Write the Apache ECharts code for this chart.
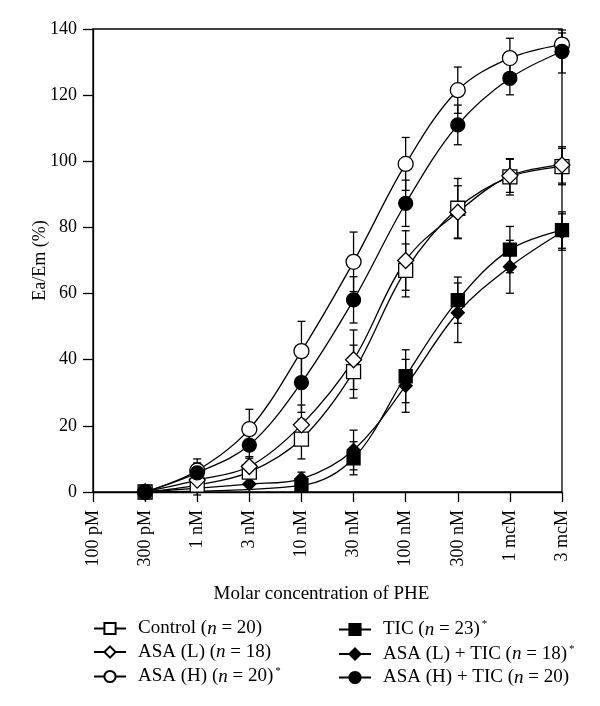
<!DOCTYPE html>
<html><head><meta charset="utf-8">
<script src="https://cdn.jsdelivr.net/npm/echarts@6/dist/echarts.min.js"></script>
<style>html,body{margin:0;padding:0;background:#fff}#c{width:600px;height:706px}</style>
</head><body><div id="c"></div>
<script>
var tickLabels = ['100 pM','300 pM','1 nM','3 nM','10 nM','30 nM','100 nM','300 nM','1 mcM','3 mcM'];
var yTicks = [0, 20, 40, 60, 80, 100, 120, 140];

var controlVals = [null, 0, 2.1, 6, 16, 36.4, 67, 85.8, 95.3, 98.4];
var controlErr  = [null, null, 3, 3, 6, 8, 8, 9, 5.5, 5.5];
var asaLVals    = [null, 0, 3.6, 7.7, 20.3, 40, 70, 84.6, 95.6, 98.9];
var asaLErr     = [null, null, 3, 3, 6, 9, 9, 8, 5, 5.5];
var asaHVals    = [null, 0, 6.5, 19, 42.6, 69.6, 99.2, 121.5, 131.2, 135.3];
var asaHErr     = [null, null, 3.5, 6, 9, 9, 8, 7, 6, 3.5];
var ticVals     = [null, 0, null, null, 2, 10.2, 35, 58, 73.3, 79.2];
var ticErr      = [null, null, null, null, 2, 5, 8, 7, 7, 5.5];
var asaLTicVals = [null, 0, null, 2.4, 4, 12.7, 32.1, 54.2, 68.1, 78.6];
var asaLTicErr  = [null, null, null, null, 2, 6, 8, 9, 8, 5.5];
var asaHTicVals = [null, 0, 5.8, 14.2, 33.1, 58.1, 87.3, 111, 125.1, 133.2];
var asaHTicErr  = [null, null, 3, 4, 9, 7, 7, 6, 5, 6.5];

var names = ['Control','ASA (L)','ASA (H)','TIC','ASA (L) + TIC','ASA (H) + TIC'];
var legendText = {
  'Control': 'Control ({i|n} = 20)',
  'ASA (L)': 'ASA (L) ({i|n} = 18)',
  'ASA (H)': 'ASA (H) ({i|n} = 20){s|*}',
  'TIC': 'TIC ({i|n} = 23){s|*}',
  'ASA (L) + TIC': 'ASA (L) + TIC ({i|n} = 18){s|*}',
  'ASA (H) + TIC': 'ASA (H) + TIC ({i|n} = 20)'
};

var FONT = 'Liberation Serif';
var chart = echarts.init(document.getElementById('c'));

function lineSeries(name, vals, symbol, size, filled) {
  return {
    name: name, type: 'line', data: vals, smooth: 0.35, connectNulls: true,
    symbol: symbol, symbolSize: size, showAllSymbol: true, z: 3,
    lineStyle: {color: '#000', width: 1.3},
    itemStyle: {color: filled ? '#000' : '#fff', borderColor: '#000', borderWidth: 1.3, opacity: 1},
    emphasis: {disabled: true}
  };
}
function errSeries(vals, errs) {
  var d = [];
  for (var i = 0; i < vals.length; i++) {
    if (vals[i] != null && errs[i] != null) d.push([i, vals[i] - errs[i], vals[i] + errs[i]]);
  }
  return {
    type: 'custom', z: 1, silent: true, data: d,
    renderItem: function (params, api) {
      var x = api.value(0);
      var lo = api.coord([x, api.value(1)]);
      var hi = api.coord([x, api.value(2)]);
      var w = 4;
      var st = {stroke: '#000', lineWidth: 1.3};
      return {type: 'group', children: [
        {type: 'line', shape: {x1: lo[0], y1: lo[1], x2: hi[0], y2: hi[1]}, style: st},
        {type: 'line', shape: {x1: hi[0] - w, y1: hi[1], x2: hi[0] + w, y2: hi[1]}, style: st},
        {type: 'line', shape: {x1: lo[0] - w, y1: lo[1], x2: lo[0] + w, y2: lo[1]}, style: st}
      ]};
    }
  };
}

var rich = {
  i: {fontFamily: FONT, fontSize: 19, fontStyle: 'italic', color: '#000'},
  s: {fontFamily: FONT, fontSize: 11, color: '#000', padding: [0, 0, 10, 2]}
};
function legendCfg(data, left) {
  return {
    data: data, orient: 'vertical', left: left, top: 614,
    itemWidth: 32, itemHeight: 14, itemGap: 4.5,
    formatter: function (n) { return legendText[n]; },
    textStyle: {fontFamily: FONT, fontSize: 19, color: '#000', padding: [0, 0, 0, 7], rich: rich},
    selectedMode: false
  };
}

chart.setOption({
  animation: false,
  grid: {left: 93, right: 38, top: 29, bottom: 214, show: true, borderColor: '#000', borderWidth: 1.3},
  legend: [legendCfg(names.slice(0, 3), 88), legendCfg(names.slice(3), 333)],
  xAxis: {
    type: 'category', data: tickLabels, boundaryGap: false,
    name: 'Molar concentration of PHE', nameLocation: 'middle', nameGap: 93,
    nameMoveOverlap: false,
    nameTextStyle: {fontFamily: FONT, fontSize: 19, color: '#000', padding: [0, 12, 0, 0]},
    axisLine: {lineStyle: {color: '#000', width: 1.3}},
    axisTick: {length: 10, lineStyle: {color: '#000', width: 1.3}},
    axisLabel: {rotate: 90, margin: 18, interval: 0, fontFamily: FONT, fontSize: 18, color: '#000'},
    splitLine: {show: false}
  },
  yAxis: {
    type: 'value', min: yTicks[0], max: yTicks[yTicks.length - 1], interval: yTicks[1] - yTicks[0],
    name: 'Ea/Em (%)', nameLocation: 'middle', nameGap: 44, nameMoveOverlap: false,
    nameTextStyle: {fontFamily: FONT, fontSize: 18, color: '#000'},
    axisLine: {show: true, lineStyle: {color: '#000', width: 1.3}},
    axisTick: {show: true, length: 10, lineStyle: {color: '#000', width: 1.3}},
    axisLabel: {margin: 16, fontFamily: FONT, fontSize: 18, color: '#000'},
    splitLine: {show: false}
  },
  series: [
    errSeries(controlVals, controlErr),
    errSeries(asaLVals, asaLErr),
    errSeries(asaHVals, asaHErr),
    errSeries(ticVals, ticErr),
    errSeries(asaLTicVals, asaLTicErr),
    errSeries(asaHTicVals, asaHTicErr),
    lineSeries('TIC', ticVals, 'rect', 13, true),
    lineSeries('ASA (L) + TIC', asaLTicVals, 'diamond', 13, true),
    lineSeries('Control', controlVals, 'rect', 14, false),
    lineSeries('ASA (L)', asaLVals, 'diamond', 16, false),
    lineSeries('ASA (H)', asaHVals, 'circle', 15, false),
    lineSeries('ASA (H) + TIC', asaHTicVals, 'circle', 14, true)
  ]
});
</script>
</body></html>
